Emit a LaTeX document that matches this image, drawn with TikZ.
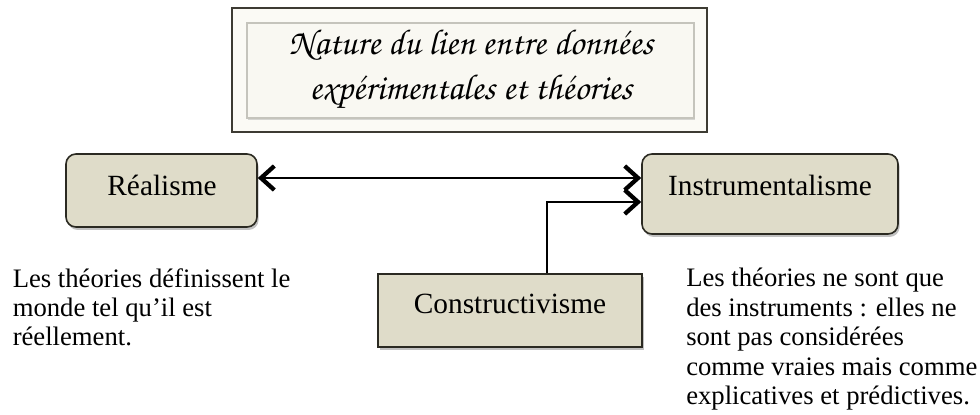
\documentclass[tikz,border=0pt]{standalone}
\usepackage[T1]{fontenc}
\usepackage{fontspec}
\setmainfont{Liberation Serif}
\usetikzlibrary{arrows.meta,shadows}
\definecolor{boxfill}{HTML}{DFDCC9}
\definecolor{boxdraw}{HTML}{2B2A22}
\definecolor{framedraw}{HTML}{3D3B33}
\definecolor{titlefill}{HTML}{FBFAF5}
\definecolor{innerdraw}{HTML}{C5C4BC}
\definecolor{innerfill}{HTML}{F9F8F2}
\newcommand{\chancery}{\fontencoding{T1}\fontfamily{pzc}\fontseries{mb}\fontshape{it}\selectfont}
\tikzset{chev/.tip={Straight Barb[length=10pt,width=18pt,line width=3.2pt]}}
\begin{document}
\begin{tikzpicture}[x=0.75pt,y=-0.75pt,
  box/.style={draw=boxdraw, line width=1.2pt, fill=boxfill, inner sep=0pt,
    drop shadow={shadow xshift=1.2pt, shadow yshift=-2.2pt, opacity=0.35, fill=black!70}},
  roundbox/.style={box, rounded corners=7.5pt},
  boxlabel/.style={anchor=base, inner sep=0pt, font=\fontsize{22}{26}\selectfont},
  body/.style={anchor=north west, align=left, inner sep=0pt, font=\fontsize{20}{22.1}\selectfont}
]
\useasboundingbox (0,0) rectangle (980,414);
% title
\node[draw=framedraw, line width=2.2pt, fill=titlefill, minimum width=356.25pt, minimum height=93pt, inner sep=0pt] (tframe) at (469.5,70) {};
\node[draw=innerdraw, line width=1.2pt, fill=innerfill, minimum width=335.25pt, minimum height=71.25pt, inner sep=0pt,
  drop shadow={shadow xshift=1pt, shadow yshift=-1.5pt, opacity=0.3, fill=black!50}] (tinner) at (470.5,70.5) {};
\node[anchor=north, align=center, inner sep=0pt, font=\chancery\fontsize{27}{33.75}\selectfont] (ttext) at (471,29)
  {Nature du lien entre donn\'ees\\exp\'erimentales et th\'eories};
% boxes
\node[roundbox, minimum width=143.25pt, minimum height=54.75pt] (realisme) at (161.5,190.5) {};
\node[boxlabel] (realismeT) at (162,195) {Réalisme};
\node[roundbox, minimum width=192pt, minimum height=60pt] (instr) at (770,194) {};
\node[boxlabel] (instrT) at (770,195) {Instrumentalisme};
\node[box, minimum width=198pt, minimum height=54.75pt] (constr) at (510,310.5) {};
\node[boxlabel] (constrT) at (510,313) {Constructivisme};
% connectors
\coordinate (yA) at (0,178);
\coordinate (jn) at (547,202);
\draw[line width=1.7pt, chev-chev] (realisme.east |- yA) -- (instr.west |- yA);
\draw[line width=1.1pt, -chev] (constr.north -| jn) |- (instr.west |- jn);
% texts
\node[body] (ltext) at (12.5,268) {Les théories définissent le\\monde tel qu’il est\\réellement.};
\node[body] (rtext) at (686,268) {Les théories ne sont que\\des instruments : elles ne\\sont pas considérées\\comme vraies mais comme\\explicatives et prédictives.};
\end{tikzpicture}
\end{document}
